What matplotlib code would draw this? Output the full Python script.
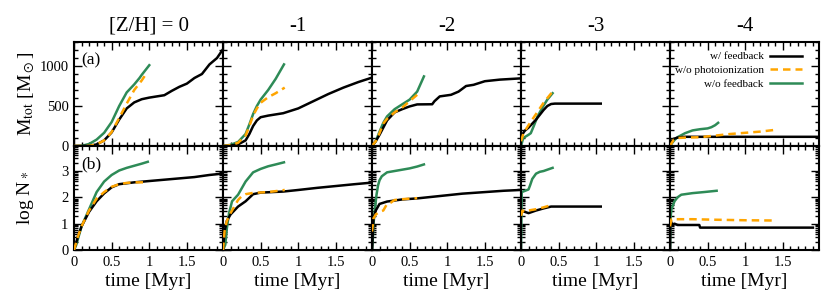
import numpy as np
import matplotlib
matplotlib.use("Agg")
import matplotlib.pyplot as plt
from matplotlib.ticker import MultipleLocator, FixedLocator

plt.rcParams['font.family'] = ['Liberation Serif', 'DejaVu Serif']
plt.rcParams['mathtext.fontset'] = 'stix'

# --- data: time [Myr] and values per metallicity ---
metallicities = ["[Z/H] = 0", "-1", "-2", "-3", "-4"]

# top row: M_tot [Msun]
m_fb_t = [
    [0, 0.2, 0.3, 0.4, 0.5, 0.6, 0.7, 0.8, 0.9, 1.0, 1.1, 1.2, 1.3, 1.4, 1.5, 1.6, 1.7, 1.8, 1.9, 1.98],
    [0, 0.1, 0.2, 0.3, 0.35, 0.4, 0.45, 0.5, 0.6, 0.8, 1.0, 1.2, 1.4, 1.6, 1.8, 1.98],
    [0, 0.05, 0.1, 0.2, 0.3, 0.4, 0.5, 0.6, 0.8, 0.83, 0.9, 1.05, 1.15, 1.25, 1.35, 1.5, 1.7, 1.97],
    [0, 0.05, 0.1, 0.2, 0.3, 0.35, 0.4, 0.45, 1.06],
    [0, 0.02, 0.05, 0.1, 0.2, 1.97],
]
m_fb = [
    [0, 2, 20, 70, 170, 330, 470, 545, 585, 605, 620, 635, 690, 740, 780, 850, 900, 1020, 1100, 1210],
    [0, 5, 20, 70, 150, 250, 320, 360, 380, 410, 470, 560, 650, 730, 800, 855],
    [0, 60, 140, 320, 420, 460, 495, 520, 522, 560, 620, 640, 680, 750, 765, 810, 830, 845],
    [120, 190, 230, 330, 450, 500, 525, 530, 530],
    [0, 60, 90, 105, 115, 115],
]
m_nophot_t = [
    [0, 0.2, 0.3, 0.4, 0.5, 0.6, 0.7, 0.8, 0.9, 0.97],
    [0, 0.1, 0.2, 0.3, 0.35, 0.4, 0.45, 0.5, 0.6, 0.7, 0.82],
    [0, 0.05, 0.1, 0.15, 0.2, 0.3, 0.4, 0.5, 0.6],
    [0, 0.03, 0.06, 0.1, 0.2, 0.3, 0.42],
    [0, 0.05, 0.1, 0.2, 0.4, 0.6, 0.8, 1.0, 1.2, 1.38],
]
m_nophot = [
    [0, 2, 20, 70, 175, 350, 530, 700, 820, 920],
    [0, 10, 40, 130, 250, 380, 470, 540, 610, 660, 730],
    [0, 60, 160, 280, 340, 420, 480, 560, 640],
    [60, 150, 200, 260, 400, 540, 680],
    [0, 80, 100, 105, 110, 130, 150, 165, 180, 200],
]
m_nofb_t = [
    [0, 0.1, 0.2, 0.3, 0.4, 0.5, 0.6, 0.7, 0.8, 0.87, 0.9, 1.0],
    [0, 0.1, 0.2, 0.3, 0.35, 0.4, 0.45, 0.5, 0.55, 0.6, 0.7, 0.81],
    [0, 0.05, 0.1, 0.15, 0.2, 0.3, 0.4, 0.5, 0.6, 0.69],
    [0, 0.03, 0.1, 0.13, 0.17, 0.22, 0.29, 0.35, 0.42],
    [0, 0.03, 0.06, 0.1, 0.2, 0.3, 0.4, 0.5, 0.55, 0.6, 0.64],
]
m_nofb = [
    [0, 2, 25, 80, 165, 300, 500, 670, 770, 850, 890, 1010],
    [0, 15, 50, 150, 270, 400, 500, 580, 640, 700, 840, 1020],
    [0, 60, 180, 290, 370, 460, 520, 580, 680, 870],
    [0, 100, 140, 160, 250, 370, 490, 580, 660],
    [0, 40, 75, 110, 160, 195, 210, 220, 235, 260, 290],
]

# bottom row: log N_*
n_fb_t = [
    [0, 0.05, 0.1, 0.2, 0.3, 0.4, 0.5, 0.6, 0.8, 1.0, 1.2, 1.4, 1.6, 1.8, 1.97],
    [0, 0.02, 0.05, 0.1, 0.2, 0.3, 0.4, 0.5, 0.8, 1.0, 1.25, 1.5, 1.75, 1.98],
    [0, 0.02, 0.05, 0.1, 0.2, 0.3, 0.4, 0.6, 0.8, 1.0, 1.2, 1.5, 1.75, 1.97],
    [0, 0.05, 0.1, 0.15, 0.2, 0.3, 0.4, 1.06],
    [0, 0.005, 0.01, 0.03, 0.06, 0.1, 0.39, 0.4, 1.9],
]
n_fb = [
    [0, 0.5, 0.9, 1.45, 1.85, 2.15, 2.38, 2.5, 2.57, 2.62, 2.67, 2.72, 2.77, 2.85, 2.9],
    [0, 0.7, 1.1, 1.35, 1.65, 1.85, 2.12, 2.18, 2.22, 2.28, 2.36, 2.43, 2.5, 2.56],
    [0, 1.2, 1.5, 1.75, 1.84, 1.88, 1.92, 1.96, 2.02, 2.08, 2.14, 2.2, 2.25, 2.28],
    [1.5, 1.45, 1.4, 1.45, 1.5, 1.58, 1.65, 1.65],
    [0, 0.95, 1.1, 0.97, 1.0, 0.95, 0.95, 0.85, 0.85],
]
n_nophot_t = [
    [0, 0.05, 0.1, 0.2, 0.3, 0.4, 0.5, 0.6, 0.7, 0.8, 0.95],
    [0, 0.02, 0.05, 0.1, 0.15, 0.2, 0.25, 0.3, 0.4, 0.6, 0.82],
    [0, 0.02, 0.05, 0.1, 0.15, 0.2, 0.25, 0.3, 0.4, 0.5, 0.6],
    [0, 0.02, 0.05, 0.1, 0.2, 0.3, 0.42],
    [0, 0.02, 0.3, 0.6, 1.0, 1.39],
]
n_nophot = [
    [0, 0.5, 0.9, 1.5, 1.95, 2.2, 2.4, 2.5, 2.55, 2.57, 2.57],
    [0, 0.7, 1.1, 1.4, 1.65, 1.9, 2.05, 2.12, 2.17, 2.2, 2.28],
    [0.7, 1.2, 1.35, 1.45, 1.5, 1.75, 1.8, 1.9, 1.93, 1.95, 1.97],
    [1.3, 1.5, 1.45, 1.5, 1.55, 1.62, 1.72],
    [0.9, 1.17, 1.17, 1.15, 1.13, 1.12],
]
n_nofb_t = [
    [0, 0.03, 0.1, 0.2, 0.3, 0.4, 0.5, 0.6, 0.7, 0.8, 0.9, 0.98],
    [0, 0.03, 0.05, 0.08, 0.12, 0.2, 0.3, 0.4, 0.5, 0.6, 0.7, 0.81],
    [0, 0.01, 0.02, 0.04, 0.06, 0.08, 0.1, 0.13, 0.2, 0.3, 0.4, 0.5, 0.6, 0.69],
    [0, 0.005, 0.01, 0.1, 0.12, 0.15, 0.2, 0.25, 0.3, 0.42],
    [0, 0.005, 0.01, 0.02, 0.04, 0.06, 0.1, 0.15, 0.2, 0.3, 0.45, 0.62],
]
n_nofb = [
    [0, 0.2, 0.9, 1.55, 2.2, 2.6, 2.85, 3.02, 3.12, 3.2, 3.28, 3.35],
    [0, 0.2, 0.8, 1.4, 1.85, 2.1, 2.6, 2.95, 3.08, 3.18, 3.25, 3.33],
    [0, 0.4, 1.0, 1.6, 2.1, 2.45, 2.65, 2.8, 2.95, 3.0, 3.05, 3.1, 3.17, 3.25],
    [0, 1.0, 2.2, 2.3, 2.45, 2.7, 2.9, 2.97, 3.0, 3.12],
    [0, 0.8, 1.3, 1.55, 1.7, 1.85, 2.0, 2.1, 2.12, 2.16, 2.2, 2.25],
]

labels = ["w/ feedback", "w/o photoionization", "w/o feedback"]
c_fb, c_nophot, c_nofb = "black", "#ffa500", "#2e8b57"

fig, axes = plt.subplots(2, 5, figsize=(8.3, 3.06), dpi=100, sharex=True)
fig.subplots_adjust(left=0.0892, right=0.9867, top=0.8627, bottom=0.183,
                    wspace=0, hspace=0)

log_minor = [n + np.log10(k) for n in range(0, 4) for k in range(2, 10)]

for j in range(5):
    ax_m, ax_n = axes[0, j], axes[1, j]
    ax_m.plot(m_fb_t[j], m_fb[j], color=c_fb, lw=1.8, label=labels[0], zorder=3)
    ax_m.plot(m_nophot_t[j], m_nophot[j], color=c_nophot, lw=1.8,
              ls=(0, (3, 2)), label=labels[1], zorder=4)
    ax_m.plot(m_nofb_t[j], m_nofb[j], color=c_nofb, lw=1.8, label=labels[2], zorder=2)
    ax_n.plot(n_fb_t[j], n_fb[j], color=c_fb, lw=1.8, zorder=3)
    ax_n.plot(n_nophot_t[j], n_nophot[j], color=c_nophot, lw=1.8, ls=(0, (3, 2)), zorder=4)
    ax_n.plot(n_nofb_t[j], n_nofb[j], color=c_nofb, lw=1.8, zorder=2)

    ax_m.set_ylim(0, 1300)
    ax_n.set_ylim(0, 3.95)
    ax_m.set_xlim(0, 1.98)
    ax_m.yaxis.set_major_locator(FixedLocator([0, 500, 1000]))
    ax_m.yaxis.set_minor_locator(MultipleLocator(100))
    ax_n.yaxis.set_major_locator(FixedLocator([0, 1, 2, 3]))
    ax_n.yaxis.set_minor_locator(FixedLocator(log_minor))
    ax_n.xaxis.set_major_locator(FixedLocator([0, 0.5, 1, 1.5]))
    ax_n.xaxis.set_minor_locator(MultipleLocator(0.1))
    ax_n.set_xticklabels(["0", "0.5", "1", "1.5"])

    for ax in (ax_m, ax_n):
        ax.tick_params(which="both", direction="in", top=True, right=True,
                       labelsize=10.5, width=1.0, pad=4)
        ax.tick_params(which="major", length=6)
        ax.tick_params(which="minor", length=3)
        for sp in ax.spines.values():
            sp.set_linewidth(1.5)
        if j > 0:
            ax.tick_params(labelleft=False)

    ax_m.set_title(metallicities[j], fontsize=15, pad=8)
    ax_n.set_xlabel("time [Myr]", fontsize=14, labelpad=3)

axes[0, 0].set_ylabel(r"M$_{\rm tot}$ [M$_\odot$]", fontsize=14, labelpad=2)
axes[1, 0].set_ylabel(r"log N$_*$", fontsize=14, labelpad=18)
axes[0, 0].text(0.05, 0.9, "(a)", transform=axes[0, 0].transAxes,
                fontsize=12.5, va="top", ha="left")
axes[1, 0].text(0.05, 0.9, "(b)", transform=axes[1, 0].transAxes,
                fontsize=12.5, va="top", ha="left")

axes[0, 4].legend(loc="upper right", bbox_to_anchor=(0.913, 0.95),
                  markerfirst=False, frameon=False, fontsize=8.0,
                  handlelength=2.8, labelspacing=0.35, borderaxespad=0,
                  handletextpad=0.6)

fig.savefig("out.png", dpi=100)
